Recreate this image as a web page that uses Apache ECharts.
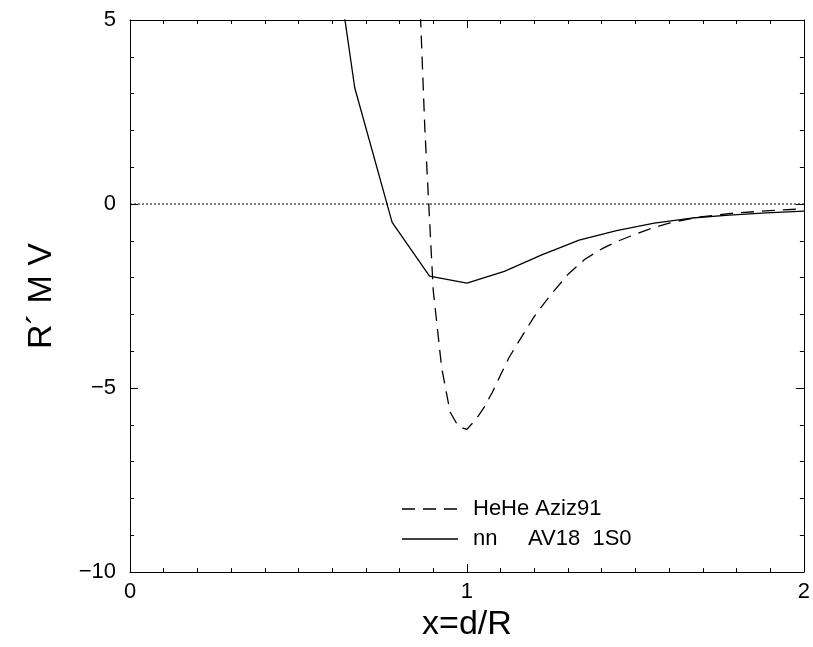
<!DOCTYPE html>
<html><head><meta charset="utf-8">
<script src="https://cdn.jsdelivr.net/npm/echarts@6/dist/echarts.min.js"></script>
<style>html,body{margin:0;padding:0;background:#fff}#c{width:813px;height:647px}</style>
</head><body><div id="c"></div>
<script>
// nn AV18 1S0 (solid)
const nnX = [0.556, 0.667, 0.778, 0.889, 1.0, 1.111, 1.222, 1.333, 1.444, 1.556, 1.667, 1.778, 1.889, 2.0];
const nnY = [10.2, 3.16, -0.50, -1.96, -2.15, -1.83, -1.38, -0.98, -0.72, -0.52, -0.38, -0.30, -0.24, -0.19];
// HeHe Aziz91 (dashed)
const heX = [0.85, 0.875, 0.9, 0.925, 0.95, 0.975, 1.0, 1.025, 1.05, 1.075, 1.1, 1.125, 1.15, 1.2, 1.25, 1.3, 1.35, 1.4, 1.45, 1.5, 1.55, 1.6, 1.65, 1.7, 1.8, 1.9, 2.0];
const heY = [8.0, 2.05, -2.35, -4.45, -5.65, -6.05, -6.12, -5.87, -5.54, -5.12, -4.64, -4.17, -3.79, -3.05, -2.45, -1.91, -1.5, -1.22, -1.0, -0.82, -0.65, -0.52, -0.42, -0.34, -0.24, -0.18, -0.13];
const zeroX = [0, 2];
const zeroY = [0, 0];
const xTicks = { min: 0, max: 2, interval: 1 };
const yTicks = { min: -10, max: 5, interval: 5 };
const legendNames = ['HeHe Aziz91', 'nn     AV18  1S0'];
const xName = 'x=d/R';
const yName = 'R\u00B4 M V';

const zip = (a, b) => a.map((v, i) => [v, b[i]]);
const fam = '"Liberation Sans", Arial, sans-serif';
const fmt = v => String(v).replace('-', '\u2212');
const black = '#000';

const chart = echarts.init(document.getElementById('c'), null, { renderer: 'canvas' });
const baseAxis = {
  type: 'value',
  axisLine: { show: true, onZero: false, lineStyle: { color: black, width: 1 } },
  axisTick: { show: true, inside: true, length: 8, lineStyle: { color: black, width: 1 } },
  minorTick: { show: true, length: 4, lineStyle: { color: black, width: 1 } },
  splitLine: { show: false },
  minorSplitLine: { show: false }
};
chart.setOption({
  animation: false,
  backgroundColor: '#fff',
  textStyle: { fontFamily: fam },
  grid: { left: 130, top: 20, right: 5, bottom: 63, containLabel: false },
  xAxis: [
    Object.assign({}, baseAxis, xTicks, {
      position: 'bottom',
      minorTick: Object.assign({}, baseAxis.minorTick, { splitNumber: 10 }),
      axisLabel: { fontSize: 22, color: black, margin: 9, fontFamily: fam, formatter: fmt },
      name: xName, nameLocation: 'middle', nameGap: 34,
      nameTextStyle: { fontSize: 34, color: black, fontFamily: fam }
    }),
    Object.assign({}, baseAxis, xTicks, {
      position: 'top',
      minorTick: Object.assign({}, baseAxis.minorTick, { splitNumber: 10 }),
      axisLabel: { show: false }
    })
  ],
  yAxis: [
    Object.assign({}, baseAxis, yTicks, {
      position: 'left',
      minorTick: Object.assign({}, baseAxis.minorTick, { splitNumber: 5 }),
      axisLabel: { fontSize: 22, color: black, margin: 14, fontFamily: fam, formatter: fmt },
      name: yName, nameLocation: 'middle', nameGap: 71,
      nameTextStyle: { fontSize: 34, color: black, fontFamily: fam }
    }),
    Object.assign({}, baseAxis, yTicks, {
      position: 'right',
      minorTick: Object.assign({}, baseAxis.minorTick, { splitNumber: 5 }),
      axisLabel: { show: false }
    })
  ],
  series: [
    {
      name: 'zero', type: 'line', data: zip(zeroX, zeroY), symbol: 'none', silent: true,
      lineStyle: { color: black, width: 1, type: [2, 2] }
    },
    {
      name: legendNames[0], type: 'line', data: zip(heX, heY), symbol: 'none', clip: true,
      lineStyle: { color: black, width: 1.3, type: [13, 8] }
    },
    {
      name: legendNames[1], type: 'line', data: zip(nnX, nnY), symbol: 'none', clip: true,
      lineStyle: { color: black, width: 1.3, type: 'solid' }
    }
  ],
  graphic: [
    { type: 'line', shape: { x1: 402, y1: 509, x2: 458, y2: 509 }, style: { stroke: black, lineWidth: 1.3, lineDash: [13, 8] } },
    { type: 'text', x: 473, y: 509, style: { text: legendNames[0], fill: black, font: '22px ' + fam, align: 'left', verticalAlign: 'middle' } },
    { type: 'line', shape: { x1: 402, y1: 539, x2: 458, y2: 539 }, style: { stroke: black, lineWidth: 1.3 } },
    { type: 'text', x: 473, y: 539, style: { text: legendNames[1], fill: black, font: '22px ' + fam, align: 'left', verticalAlign: 'middle' } }
  ]
});
</script>
</body></html>
